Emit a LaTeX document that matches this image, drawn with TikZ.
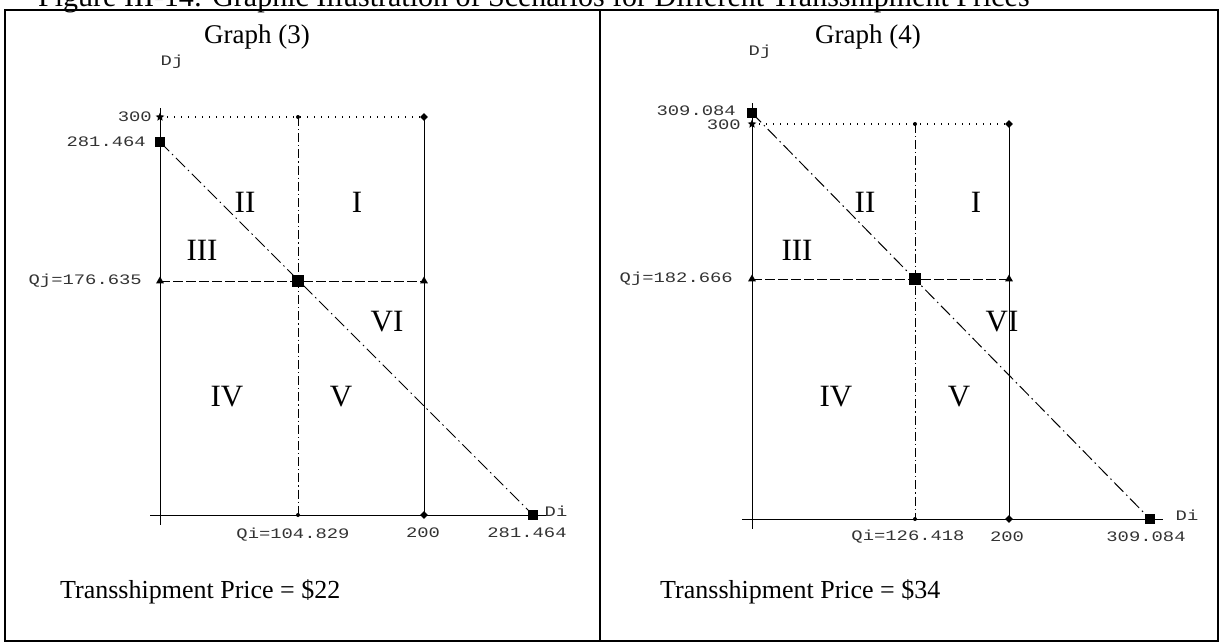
\documentclass[tikz,border=0pt]{standalone}
\usepackage{fontspec}
\setmainfont{Liberation Serif}
\newfontfamily\lbl[FakeStretch=1.3]{Liberation Mono}
\usetikzlibrary{shapes.geometric}
\begin{document}
\begin{tikzpicture}[x=1pt,y=-1pt,
 ax/.style={line width=1pt},
 dotl/.style={line width=1.1pt, dash pattern=on 1.1pt off 5.9pt},
 ddl/.style={line width=1pt, dash pattern=on 9pt off 3pt on 1.2pt off 3pt},
 dashl/.style={line width=1pt, dash pattern=on 10pt off 3pt},
 diagl/.style={line width=1pt, dash pattern=on 13pt off 4pt on 1.5pt off 4pt},
 sqm/.style={rectangle, fill=black, inner sep=0, minimum size=10pt},
 bsqm/.style={rectangle, fill=black, inner sep=0, minimum size=12pt},
 dotm/.style={circle, fill=black, inner sep=0, minimum size=4pt},
 diam/.style={diamond, fill=black, inner sep=0, minimum size=8pt},
 trim/.style={regular polygon, regular polygon sides=3, fill=black, inner sep=0, minimum size=9pt},
 starm/.style={star, star points=5, star point ratio=2.2, fill=black, inner sep=0, minimum size=9pt},
 lab/.style={font=\lbl\fontsize{14.5}{16}\selectfont, text=black!80, inner sep=0},
 num/.style={font=\fontsize{31}{34}\selectfont, inner sep=0},
 ttl/.style={font=\fontsize{27}{30}\selectfont, inner sep=0},
 tpr/.style={font=\fontsize{26}{29}\selectfont, inner sep=0},
 capf/.style={font=\fontsize{30}{33}\selectfont, inner sep=0},
]
\path[use as bounding box] (0,0) rectangle (1220,643);
\begin{scope}
\clip (0,0) rectangle (1220,643);
\node[capf, anchor=base west] (cap) at (38,6) {Figure III-14: Graphic Illustration of Scenarios for Different Transshipment Prices};
\end{scope}
% frame
\draw[line width=2.4pt] (5,10) rectangle (1218,641);
\draw[line width=2.4pt] (600,10) -- (600,641);

% ===== Graph (3) =====
\node[ttl] (g3) at (257,37) {Graph (3)};
\coordinate (ly0) at (160,108);
\coordinate (ly1) at (160,525);
\coordinate (lx0) at (150,515);
\coordinate (lx1) at (546,515);
\node[starm] (ls) at (160,117) {};
\node[sqm] (la) at (160,142) {};
\node[dotm] (lt) at (298,117) {};
\node[diam] (ld1) at (424,117) {};
\node[trim] (lq) at (160,281) {};
\node[bsqm] (lm) at (298,281) {};
\node[trim] (lr) at (424,281) {};
\node[dotm] (lb) at (298,515) {};
\node[diam] (ld2) at (424,515) {};
\node[sqm] (le) at (533,515) {};
\draw[ax] (ly0) -- (ly1);
\draw[ax] (lx0) -- (lx1);
\draw[dotl] (ls.center) -- (ld1.center);
\draw[ddl] (lt.center) -- (lb.center);
\draw[ax] (ld1.center) -- (ld2.center);
\draw[dashl] (lq.center) -- (lr.center);
\draw[diagl] (la.center) -- (le.center);
\node[lab] (ldj) at (172,62) {Dj};
\node[lab, anchor=east] (l300) at (152,117) {300};
\node[lab, anchor=east] (l281) at (146,142) {281.464};
\node[lab, anchor=east] (lqj) at (142,281) {Qj=176.635};
\node[lab] (lqi) at (293,535) {Qi=104.829};
\node[lab] (l200) at (423,533) {200};
\node[lab] (l281b) at (527,533) {281.464};
\node[lab] (ldi) at (556,511) {Di};
\node[num] (lII) at (245,202) {II};
\node[num] (lI) at (357,202) {I};
\node[num] (lIII) at (202,250) {III};
\node[num] (lVI) at (387,322) {VI};
\node[num] (lIV) at (227,397) {IV};
\node[num] (lV) at (341,397) {V};
\node[tpr, anchor=west] (tp3) at (60,592) {Transshipment Price = \$22};

% ===== Graph (4) =====
\node[ttl] (g4) at (868,37) {Graph (4)};
\coordinate (ry0) at (752,103);
\coordinate (ry1) at (752,529);
\coordinate (rx0) at (742,519);
\coordinate (rx1) at (1163,519);
\node[sqm] (ra) at (752,113) {};
\node[starm] (rs) at (752,124) {};
\node[dotm] (rt) at (915,124) {};
\node[diam] (rd1) at (1009,124) {};
\node[trim] (rq) at (752,279) {};
\node[bsqm] (rm) at (915,279) {};
\node[trim] (rr) at (1009,279) {};
\node[dotm] (rb) at (915,519) {};
\node[diam] (rd2) at (1009,519) {};
\node[sqm] (re) at (1150,519) {};
\draw[ax] (ry0) -- (ry1);
\draw[ax] (rx0) -- (rx1);
\draw[dotl] (rs.center) -- (rd1.center);
\draw[ddl] (rt.center) -- (rb.center);
\draw[ax] (rd1.center) -- (rd2.center);
\draw[dashl] (rq.center) -- (rr.center);
\draw[diagl] (ra.center) -- (re.center);
\node[lab] (rdj) at (760,52) {Dj};
\node[lab, anchor=east] (r309) at (736,111) {309.084};
\node[lab, anchor=east] (r300) at (741,125) {300};
\node[lab, anchor=east] (rqj) at (733,279) {Qj=182.666};
\node[lab] (rqi) at (908,537) {Qi=126.418};
\node[lab] (r200) at (1007,537) {200};
\node[lab] (r309b) at (1146,537) {309.084};
\node[lab] (rdi) at (1187,515) {Di};
\node[num] (rII) at (865,202) {II};
\node[num] (rI) at (976,202) {I};
\node[num] (rIII) at (797,250) {III};
\node[num] (rVI) at (1002,322) {VI};
\node[num] (rIV) at (836,397) {IV};
\node[num] (rV) at (959,397) {V};
\node[tpr, anchor=west] (tp4) at (660,592) {Transshipment Price = \$34};
\end{tikzpicture}
\end{document}
